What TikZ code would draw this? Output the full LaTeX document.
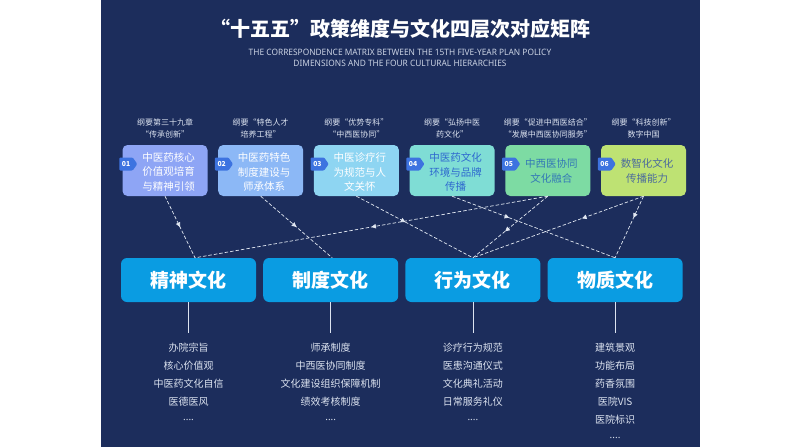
\documentclass[tikz,border=0pt]{standalone}
\usepackage{fontspec}
\setmainfont{Noto Sans CJK SC}
\newfontfamily\subfont[FakeStretch=0.95]{Noto Sans}
\newfontfamily\dotfont{Noto Sans}
\usetikzlibrary{shapes.symbols,arrows.meta,decorations.markings}
\definecolor{bg}{HTML}{1C2D5C}
\definecolor{boxA}{HTML}{8EA5F5}
\definecolor{boxB}{HTML}{8CB8F6}
\definecolor{boxC}{HTML}{8ED5F2}
\definecolor{boxD}{HTML}{7FDDD5}
\definecolor{boxE}{HTML}{7DDBA3}
\definecolor{boxF}{HTML}{BEE273}
\definecolor{badgec}{HTML}{3D73E0}
\definecolor{cult}{HTML}{0A9CE2}
\definecolor{lighttext}{HTML}{DCE3F0}
\definecolor{subgray}{HTML}{C9D1E2}
\definecolor{linec}{HTML}{E2E8F2}
\definecolor{txtD}{HTML}{2F69CF}
\definecolor{txtE}{HTML}{3378B6}
\definecolor{txtF}{HTML}{4C6B9C}
\tikzset{
  topbox/.style={rounded corners=5pt, minimum width=85pt, minimum height=51pt, inner sep=0pt},
  boxtext/.style={align=center, inner sep=0pt, font=\fontsize{10.5}{14.8}\selectfont},
  badge/.style={shape=signal, signal to=east, signal pointer angle=110, fill=badgec, text=white,
    minimum width=18pt, minimum height=13pt, inner sep=0pt, rounded corners=1pt,
    font=\bfseries\fontsize{6.8}{7}\selectfont},
  toplabel/.style={align=center, inner sep=0pt, text=lighttext, font=\fontsize{8}{11.5}\selectfont},
  cultbox/.style={fill=cult, rounded corners=6pt, minimum width=135pt, minimum height=44pt,
    inner sep=0pt, text=white, font=\bfseries\fontsize{19}{22}\selectfont},
  conn/.style={draw=linec, line width=0.7pt, dash pattern=on 3.5pt off 2pt},
  midarr/.style={postaction={decorate}, decoration={markings,
    mark=at position #1 with {\arrow[solid]{Triangle[width=4.5pt,length=4.5pt]}}}},
  vline/.style={draw=lighttext, line width=0.6pt},
  listtext/.style={align=center, inner sep=0pt, text=lighttext, font=\fontsize{10}{18}\selectfont}
}
\begin{document}
\begin{tikzpicture}[x=1pt,y=-1pt]
\useasboundingbox (0,0) rectangle (800,447);
\fill[white] (0,0) rectangle (800,447);
\fill[bg] (100.5,0) rectangle (699.5,447);

% title
\node[text=white, inner sep=0pt, font=\bfseries\fontsize{20}{24}\selectfont] (title) at (400,29) {“十五五”政策维度与文化四层次对应矩阵};
\node[text=subgray, align=center, inner sep=0pt, font=\subfont\fontsize{8.8}{11}\selectfont] (sub) at (400,57.5)
  {THE CORRESPONDENCE MATRIX BETWEEN THE 15TH FIVE-YEAR PLAN POLICY\\DIMENSIONS AND THE FOUR CULTURAL HIERARCHIES};

% labels above boxes
\node[toplabel] (l1) at (165,128.5) {纲要第三十九章\\“传承创新”};
\node[toplabel] (l2) at (260.7,128.5) {纲要“特色人才\\培养工程”};
\node[toplabel] (l3) at (356.4,128.5) {纲要“优势专科”\\“中西医协同”};
\node[toplabel] (l4) at (452.1,128.5) {纲要“弘扬中医\\药文化”};
\node[toplabel] (l5) at (547.8,128.5) {纲要“促进中西医结合”\\“发展中西医协同服务”};
\node[toplabel] (l6) at (643.5,128.5) {纲要“科技创新”\\数字中国};

% policy boxes
\node[topbox, fill=boxA] (t1) at (165,170.5) {};
\node[topbox, fill=boxB] (t2) at (260.7,170.5) {};
\node[topbox, fill=boxC] (t3) at (356.4,170.5) {};
\node[topbox, fill=boxD] (t4) at (452.1,170.5) {};
\node[topbox, fill=boxE] (t5) at (547.8,170.5) {};
\node[topbox, fill=boxF] (t6) at (643.5,170.5) {};

\node[boxtext, text=white] (x1) at (168.5,172) {中医药核心\\价值观培育\\与精神引领};
\node[boxtext, text=white] (x2) at (264.2,172) {中医药特色\\制度建设与\\师承体系};
\node[boxtext, text=white] (x3) at (359.9,172) {中医诊疗行\\为规范与人\\文关怀};
\node[boxtext, text=txtD] (x4) at (455.6,172) {中医药文化\\环境与品牌\\传播};
\node[boxtext, text=txtE] (x5) at (551.3,171) {中西医协同\\文化融合};
\node[boxtext, text=txtF] (x6) at (647,171) {数智化文化\\传播能力};

\node[badge] (b1) at (126,164) {01};
\node[badge] (b2) at (221.7,164) {02};
\node[badge] (b3) at (317.4,164) {03};
\node[badge] (b4) at (413.1,164) {04};
\node[badge] (b5) at (508.8,164) {05};
\node[badge] (b6) at (604.5,164) {06};

% culture boxes
\node[cultbox] (c1) at (188.5,280) {精神文化};
\node[cultbox] (c2) at (330.7,280) {制度文化};
\node[cultbox] (c3) at (472.9,280) {行为文化};
\node[cultbox] (c4) at (615.1,280) {物质文化};

% connectors
\draw[conn, midarr=0.5] (t1.south) -- ([xshift=6.5pt]c1.north);
\draw[conn, midarr=0.5] (t2.south) -- ([xshift=1.5pt]c2.north);
\draw[conn, midarr=0.42] (t3.south) -- (c3.north);
\draw[conn, midarr=0.35] (t4.south) -- (c4.north);
\draw[conn, midarr=0.5] (t5.south) -- ([xshift=6.5pt]c1.north);
\draw[conn, midarr=0.57] (t5.south) -- (c3.north);
\draw[conn, midarr=0.36] (t6.south) -- (c3.north);
\draw[conn, midarr=0.35] (t6.south) -- (c4.north);

% vertical lines
\coordinate (d1) at (188.5,333);
\coordinate (d2) at (330.7,333);
\coordinate (d3) at (472.9,333);
\coordinate (d4) at (615.1,333);
\draw[vline] (c1.south) -- (d1);
\draw[vline] (c2.south) -- (d2);
\draw[vline] (c3.south) -- (d3);
\draw[vline] (c4.south) -- (d4);

% lists
\node[listtext] (g1) at (188.5,383) {办院宗旨\\核心价值观\\中医药文化自信\\医德医风\\{\dotfont ····}};
\node[listtext] (g2) at (330.7,383) {师承制度\\中西医协同制度\\文化建设组织保障机制\\绩效考核制度\\{\dotfont ····}};
\node[listtext] (g3) at (472.9,383) {诊疗行为规范\\医患沟通仪式\\文化典礼活动\\日常服务礼仪\\{\dotfont ····}};
\node[listtext] (g4) at (615.1,392) {建筑景观\\功能布局\\药香氛围\\医院VIS\\医院标识\\{\dotfont ····}};
\end{tikzpicture}
\end{document}
